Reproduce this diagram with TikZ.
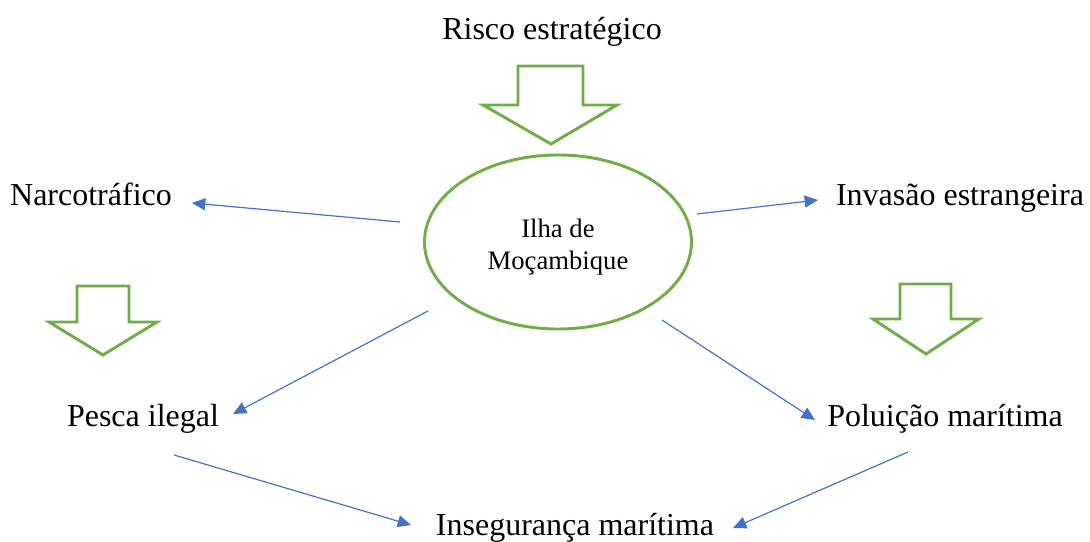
\documentclass[tikz,border=0pt]{standalone}
\usepackage{fontspec}
\setmainfont{Liberation Serif}
\usetikzlibrary{arrows.meta,shapes.geometric}
\definecolor{conblue}{HTML}{4472C4}
\definecolor{blockgreen}{HTML}{70AD47}
\tikzset{
  lbl/.style={font=\fontsize{24}{28}\selectfont, inner sep=0pt, anchor=base},
  con/.style={draw=conblue, line width=0.9pt, -{Triangle[length=10pt,width=9pt]}},
  blockarrow/.style={draw=blockgreen, line width=2.2pt, fill=white, line join=miter},
  hub/.style={ellipse, draw=blockgreen, line width=2.2pt, minimum width=267*0.75pt, minimum height=174*0.75pt, inner sep=0pt},
  hubtext/.style={align=center, inner sep=0pt, font=\fontsize{20}{24}\selectfont}
}
\begin{document}
\begin{tikzpicture}[x=0.75pt,y=-0.75pt]
\useasboundingbox (0,0) rectangle (1090,542);
% labels
\node[lbl] (risco) at (552,40) {Risco estratégico};
\node[lbl] (narco) at (91,205) {Narcotráfico};
\node[lbl] (invasao) at (960,205) {Invasão estrangeira};
\node[lbl] (pesca) at (143,426) {Pesca ilegal};
\node[lbl] (poluicao) at (945,426) {Poluição marítima};
\node[lbl] (inseg) at (575,535) {Insegurança marítima};
% hub
\node[hub] (ilha) at (558,242) {};
\node[hubtext] (ilhatext) at (558,247) {Ilha de\\Moçambique};
% block arrows
\draw[blockarrow] (518,66) -- (583,66) -- (583,105) -- (617,105) -- (551,144) -- (483,105) -- (518,105) -- cycle;
\draw[blockarrow] (77,286) -- (129,286) -- (129,322) -- (157,322) -- (103,355) -- (49,322) -- (77,322) -- cycle;
\draw[blockarrow] (900,284) -- (951,284) -- (951,319) -- (979,319) -- (926,354) -- (873,319) -- (900,319) -- cycle;
% connector ends
\coordinate (s1) at (400,222); \coordinate (e1) at (192,203);
\coordinate (s2) at (697,214); \coordinate (e2) at (818,200);
\coordinate (s3) at (428,311); \coordinate (e3) at (233,414);
\coordinate (s4) at (662,320); \coordinate (e4) at (815,420);
\coordinate (s5) at (174,455); \coordinate (e5) at (411,525);
\coordinate (s6) at (908,452); \coordinate (e6) at (733,528);
\draw[con] (s1) -- (e1);
\draw[con] (s2) -- (e2);
\draw[con] (s3) -- (e3);
\draw[con] (s4) -- (e4);
\draw[con] (s5) -- (e5);
\draw[con] (s6) -- (e6);
\end{tikzpicture}
\end{document}
